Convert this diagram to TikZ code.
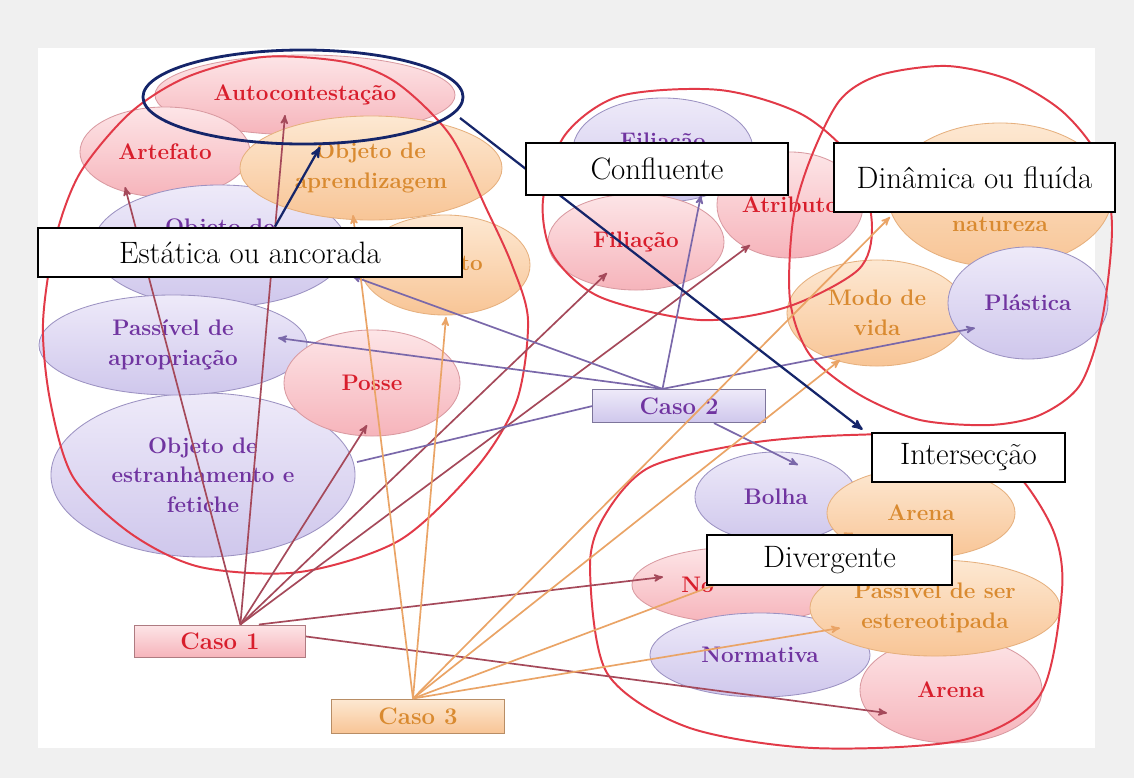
\documentclass[tikz,border=0pt]{standalone}
\usetikzlibrary{shapes,backgrounds}
\usetikzlibrary{arrows,calc}

\definecolor{rosaclaro}{HTML}{FDE5E7}
\definecolor{rosafundo}{HTML}{F6B4BB}
\definecolor{rosaborda}{HTML}{D99AA1}
\definecolor{rosatexto}{HTML}{D81E2C}
\definecolor{laranjaclaro}{HTML}{FDE8D2}
\definecolor{laranjafundo}{HTML}{F8C596}
\definecolor{laranjaborda}{HTML}{E6B07E}
\definecolor{laranjatexto}{HTML}{D98A30}
\definecolor{lilasclaro}{HTML}{EEEAF9}
\definecolor{lilasfundo}{HTML}{CFC7EC}
\definecolor{lilasborda}{HTML}{9C92C2}
\definecolor{lilastexto}{HTML}{7034A0}
\definecolor{vermelho}{HTML}{E23A48}
\definecolor{marinho}{HTML}{15256A}
\definecolor{caso1cor}{HTML}{A5495A}
\definecolor{caso2cor}{HTML}{7A68AA}
\definecolor{caso3cor}{HTML}{EAA466}

\begin{document}
\begin{tikzpicture}[x=0.025cm,y=-0.025cm,
  ell/.style 2 args={ellipse,inner sep=0pt,align=center,line width=0.6pt,
    minimum width=#1*0.05cm,minimum height=#2*0.05cm,
    font=\fontsize{16}{21}\selectfont\bfseries},
  rosa/.style={draw=rosaborda,top color=rosaclaro,bottom color=rosafundo,text=rosatexto},
  laranja/.style={draw=laranjaborda,top color=laranjaclaro,bottom color=laranjafundo,text=laranjatexto},
  lilas/.style={draw=lilasborda,top color=lilasclaro,bottom color=lilasfundo,text=lilastexto},
  caso/.style={rectangle,inner sep=0pt,line width=0.7pt,minimum width=4.3cm,minimum height=0.83cm,
    font=\fontsize{17}{19}\selectfont\bfseries},
  rotulo/.style 2 args={rectangle,draw=black,fill=white,line width=2pt,inner sep=0pt,
    minimum width=#1*0.025cm,minimum height=#2*0.025cm,font=\fontsize{22}{26}\selectfont},
  mao/.style={draw=vermelho,line width=1.4pt,line join=round},
  liga1/.style={->,>=stealth',line width=1.2pt,draw=caso1cor},
  liga2/.style={->,>=stealth',line width=1.2pt,draw=caso2cor},
  liga3/.style={->,>=stealth',line width=1.2pt,draw=caso3cor},
  ligaazul/.style={->,>=stealth',line width=1.6pt,draw=marinho}]

% moldura
\fill[gray!12] (0,0) rectangle (1134,778);
\fill[white] (38,48) rectangle (1095,748);

% grupo da esquerda
\node[ell={150}{40},rosa] (autoc) at (305,95) {Autocontestação};
\node[ell={85}{45},rosa] (artef) at (165,152) {Artefato};
\node[ell={127}{61},lilas] (objde) at (220,246) {Objeto de\\[7pt]\mbox{}};
\node[ell={131}{52},laranja] (aprend) at (371,168) {Objeto de\\aprendizagem};
\node[ell={85}{50},laranja] (objto) at (445,265) {\phantom{Obje}to};
\node[ell={152}{82},lilas] (estran) at (203,475) {Objeto de\\estranhamento e\\fetiche};
\node[ell={134}{50},lilas] (passiv) at (173,345) {Passível de\\apropriação};
\node[ell={88}{53},rosa] (posse) at (372,383) {Posse};

% grupo do meio
\node[ell={90}{52},lilas] (filp) at (663,150) {Filiação\\[-8pt]\mbox{}};
\node[ell={88}{48},rosa] (filr) at (636,242) {Filiação};
\node[ell={73}{53},rosa] (atrib) at (790,205) {Atributo};

% grupo da direita
\node[ell={112}{72},laranja] (natur) at (1000,195) {\mbox{}\\[31pt]natureza};
\node[ell={90}{53},laranja] (modo) at (877,313) {Modo de\\vida};
\node[ell={80}{56},lilas] (plast) at (1028,303) {Plástica};

% grupo de baixo
\node[ell={81}{45},lilas] (bolha) at (776,497) {Bolha};
\node[ell={94}{45},laranja] (arenao) at (921,513) {Arena};
\node[ell={108}{38},rosa] (nor) at (740,585) {No\phantom{rmativa}};
\node[ell={110}{42},lilas] (normat) at (760,655) {Normativa};
\node[ell={91}{53},rosa] (arenap) at (951,690) {Arena};
\node[ell={125}{48},laranja] (passer) at (935,608) {Passível de ser\\estereotipada};

% circulos a mao
\draw[mao] plot[smooth cycle] coordinates {(43,323) (55,240) (80,173) (130,113) (187,77) (263,57)
  (345,62) (397,83) (450,135) (487,210) (512,265) (528,320) (517,400) (477,467) (400,540)
  (300,572) (200,567) (130,533) (73,477) (50,400)};
\draw[mao] plot[smooth cycle] coordinates {(543,200) (565,135) (620,96) (720,90) (803,115)
  (857,165) (872,227) (858,270) (787,307) (700,320) (600,297) (553,255)};
\draw[mao] plot[smooth cycle] coordinates {(790,300) (793,220) (810,160) (840,100) (880,75)
  (947,66) (1010,80) (1063,112) (1100,160) (1112,227) (1102,320) (1080,385) (1040,415)
  (990,425) (920,420) (860,395) (810,355)};
\draw[mao] plot[smooth cycle] coordinates {(590,567) (605,515) (650,467) (750,443) (850,435)
  (950,437) (1013,470) (1053,530) (1062,590) (1040,695) (963,740) (813,748) (687,727)
  (607,673)};

% casos
\node[caso,draw=rosaborda!80!black,top color=rosaclaro,bottom color=rosafundo,text=rosatexto,
  minimum width=4.28cm,minimum height=0.8cm] (caso1) at (220,641) {Caso 1};
\node[caso,draw=lilasborda!80!black,top color=lilasclaro,bottom color=lilasfundo,text=lilastexto] (caso2) at (679,406) {Caso 2};
\node[caso,draw=laranjaborda!80!black,top color=laranjaclaro,bottom color=laranjafundo,text=laranjatexto,
  minimum height=0.85cm] (caso3) at (418,716) {Caso 3};

% ligacoes caso 1
\draw[liga1] (caso1.39) -- ($(autoc)+(-20,20)$);
\draw[liga1] (caso1.39) -- ($(artef)+(-40,35)$);
\draw[liga1] (caso1.39) -- ($(posse)+(-5,42)$);
\draw[liga1] (caso1.39) -- ($(filr)+(-29,31)$);
\draw[liga1] (caso1.39) -- ($(atrib)+(-40,40)$);
\draw[liga1] (caso1.23) -- ($(nor)+(-77,-8)$);
\draw[liga1] (caso1.3) -- ($(arenap)+(-64,23)$);

% ligacoes caso 2
\draw[liga2] (caso2.134) -- ($(passiv)+(105,-7)$);
\draw[liga2] (caso2.134) -- ($(objde)+(132,30)$);
\draw[liga2] (caso2.134) -- ($(filp)+(38,45)$);
\draw[liga2] (caso2.134) -- ($(plast)+(-53,25)$);
\draw[line width=1.2pt,draw=caso2cor] (caso2.west) -- ($(estran)+(154,-13)$);
\draw[liga2] (caso2.-26) -- ($(bolha)+(22,-32)$);

% ligacoes caso 3
\draw[liga3] (caso3.106) -- ($(aprend)+(-18,47)$);
\draw[liga3] (caso3.106) -- ($(objto)+(1,52)$);
\draw[liga3] (caso3.106) -- ($(natur)+(-110,22)$);
\draw[liga3] (caso3.106) -- ($(modo)+(-37,47)$);
\draw[liga3] (caso3.106) -- ($(arenao)+(-68,20)$);
\draw[liga3] (caso3.106) -- ($(passer)+(-95,20)$);

% destaque e rotulos
\node[ellipse,draw=marinho,line width=2pt,minimum width=8cm,minimum height=2.35cm] (destaque) at (303,97) {};
\node[rotulo={193}{49}] (inter) at (968.5,457.5) {Intersecção};
\draw[ligaazul] ($(destaque)+(157,21)$) -- ($(inter.north west)+(-8,-2)$);
\node[rotulo={424}{49}] (estat) at (250,252.5) {Estática ou ancorada};
\draw[ligaazul] ($(estat.north)+(25,0)$) -- ($(destaque)+(17,50)$);
\node[rotulo={262}{52}] (confl) at (657,169) {Confluente};
\node[rotulo={281}{69}] (dinam) at (974.5,177.5) {Dinâmica ou fluída};
\node[rotulo={245}{50}] (diverg) at (829.5,560) {Divergente};
\end{tikzpicture}
\end{document}
